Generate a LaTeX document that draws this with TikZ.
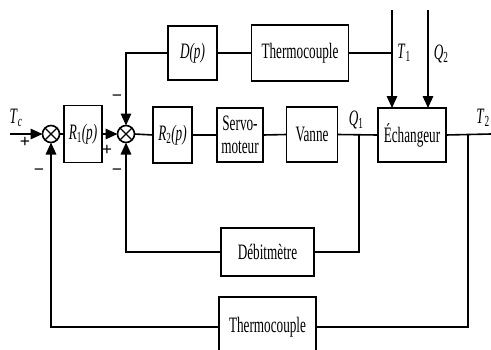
\documentclass[tikz,border=0pt]{standalone}
\usepackage{fontspec}
\setmainfont{Liberation Serif}
\usetikzlibrary{arrows.meta}
\newcommand\sq[1]{\scalebox{0.6}[1]{#1}}
\begin{document}
\begin{tikzpicture}[x=1pt,y=-1pt,
  line width=1.6pt,
  blk/.style={draw,inner sep=0pt,outer sep=0pt,font=\fontsize{22}{24}\selectfont,align=center},
  sumn/.style={draw,circle,minimum size=17pt,inner sep=0pt,outer sep=0pt,path picture={
     \draw[line width=1.3pt] (path picture bounding box.north west) -- (path picture bounding box.south east)
       (path picture bounding box.north east) -- (path picture bounding box.south west);}},
  arr/.style={-{Triangle[length=12pt,width=10.5pt]}},
  lbl/.style={font=\fontsize{22}{24}\selectfont,inner sep=0pt},
  sgn/.style={font=\fontsize{18}{18}\selectfont\bfseries,inner sep=0pt}]
\useasboundingbox (0,0) rectangle (491,349);
% summers
\node[sumn] (s1) at (51,134) {};
\node[sumn] (s2) at (126,134) {};
% blocks
\node[blk,minimum width=38pt,minimum height=57pt] (R1) at (83,134) {\sq{\textit{R}\textsubscript{1}\textit{(p)}}};
\node[blk,minimum width=39pt,minimum height=56pt] (R2) at (172.5,135) {\sq{\textit{R}\textsubscript{2}\textit{(p)}}};
\node[blk,minimum width=46pt,minimum height=54pt] (servo) at (240,135) {\sq{Servo-}\\[-1pt]\sq{moteur}};
\node[blk,minimum width=51pt,minimum height=55pt] (vanne) at (312,134.5) {\sq{Vanne}};
\node[blk,minimum width=68pt,minimum height=54pt] (ech) at (412,135) {\sq{Échangeur}};
\node[blk,minimum width=49pt,minimum height=54pt] (D) at (192.5,53) {\sq{\textit{D(p)}}};
\node[blk,minimum width=97pt,minimum height=56pt] (thT) at (300,53) {\sq{Thermocouple}};
\node[blk,minimum width=93pt,minimum height=48pt] (deb) at (267.5,252) {\sq{Débitmètre}};
\node[blk,minimum width=97pt,minimum height=60pt] (thB) at (267.5,327) {\sq{Thermocouple}};
% coordinates
\coordinate (tcin) at (10,134);
\coordinate (out) at (491,134);
\coordinate (q1b) at (359,134);
\coordinate (t2b) at (468,134);
\coordinate (t1s) at (392,10);
\coordinate (q2s) at (428,10);
\coordinate (t1j) at (392,53);
% forward path
\draw[arr] (tcin) -- (s1.west);
\draw (s1.east) -- (R1.west);
\draw[arr] (R1.east) -- (s2.west);
\draw (s2.east) -- (R2.west);
\draw (R2.east) -- (servo.west);
\draw (servo.east) -- (vanne.west);
\draw (vanne.east) -- (ech.west);
\draw (ech.east) -- (out);
% disturbances
\draw[arr] (t1s) -- (t1s |- ech.north);
\draw[arr] (q2s) -- (q2s |- ech.north);
% feedforward
\draw (t1j) -- (thT.east);
\draw (thT.west) -- (D.east);
\draw[arr] (D.west) -| (s2.north);
% feedbacks
\draw (q1b) |- (deb.east);
\draw[arr] (deb.west) -| (s2.south);
\draw (t2b) |- (thB.east);
\draw[arr] (thB.west) -| (s1.south);
% labels
\node[lbl] (lTc) at (16,118) {\sq{\textit{T}\textsubscript{\textit{c}}}};
\node[lbl] (lQ1) at (356,120) {\sq{\textit{Q}\textsubscript{1}}};
\node[lbl] (lT2) at (483,118) {\sq{\textit{T}\textsubscript{2}}};
\node[lbl] (lT1) at (404,53) {\sq{\textit{T}\textsubscript{1}}};
\node[lbl] (lQ2) at (441,54) {\sq{\textit{Q}\textsubscript{2}}};
% signs
\node[sgn] (p1) at (25,142) {+};
\node[sgn] (m1) at (39,172) {−};
\node[sgn] (m2) at (117,98) {−};
\node[sgn] (p2) at (107,150) {+};
\node[sgn] (m3) at (117,172) {−};
\end{tikzpicture}
\end{document}
